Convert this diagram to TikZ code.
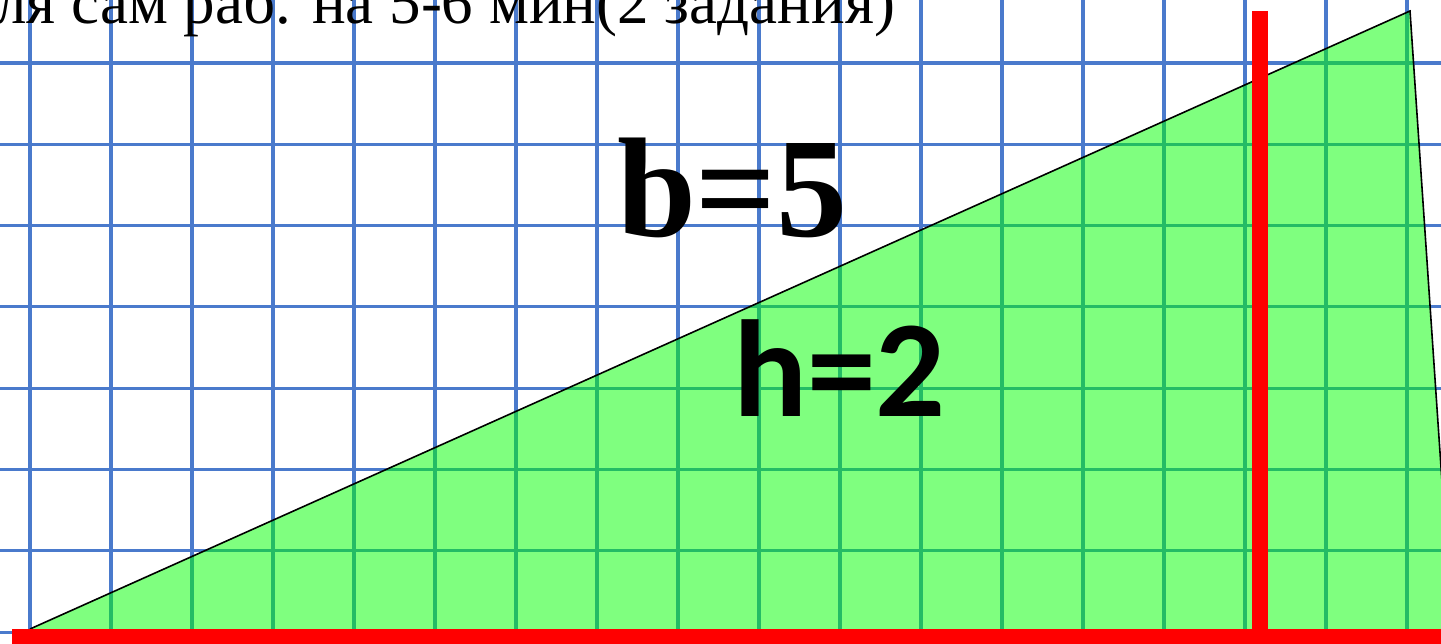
\documentclass[tikz,border=0pt]{standalone}
\usepackage{fontspec}
\setmainfont{Liberation Serif}
\newfontfamily\calib{Carlito}
\definecolor{gridblue}{RGB}{74,122,204}
\definecolor{tri}{RGB}{0,255,0}
\begin{document}
\begin{tikzpicture}[x=1pt,y=-1pt,
  gridline/.style={draw=gridblue,line width=3.2pt},
  redbar/.style={draw=red,line width=16pt},
  lbl/.style={inner sep=0pt,outer sep=0pt}]
\useasboundingbox (0,0) rectangle (1441,644);
\fill[white] (0,0) rectangle (1441,644);
\begin{scope}
\clip (0,0) rectangle (1441,644);
% grid
\foreach \k in {0,...,17} {\draw[gridline] ({30+81*\k},0) -- ({30+81*\k},644);}
\foreach \k in {0,...,7} {\draw[gridline] (0,{63+81.3*\k}) -- (1441,{63+81.3*\k});}
% triangle
\coordinate (A) at (30,629);
\coordinate (B) at (1410,11);
\coordinate (C) at (1452,629);
\fill[tri,fill opacity=0.5] (A) -- (B) -- (C) -- cycle;
\draw[black,line width=1.6pt,line join=miter] (A) -- (B) -- (C);
% red bars
\coordinate (H1) at (12,637);
\coordinate (H2) at (1441,637);
\coordinate (V1) at (1260,11);
\coordinate (V2) at (1260,644);
\draw[redbar] (V1) -- (V2);
\draw[redbar] (H1) -- (H2);
\end{scope}
% texts
\begin{scope}
\clip (0,0) rectangle (1441,644);
\node[lbl,anchor=base east] (title) at (895,24) {\fontsize{63}{63}\selectfont ля сам раб. на 5-6 мин(2 задания)};
\end{scope}
\node[lbl,anchor=base west] (b) at (617,237) {\fontsize{142}{142}\selectfont\bfseries b=5};
\node[lbl,anchor=base west] (h) at (733,417) {\calib\fontsize{138}{138}\selectfont\bfseries h=2};
\end{tikzpicture}
\end{document}
